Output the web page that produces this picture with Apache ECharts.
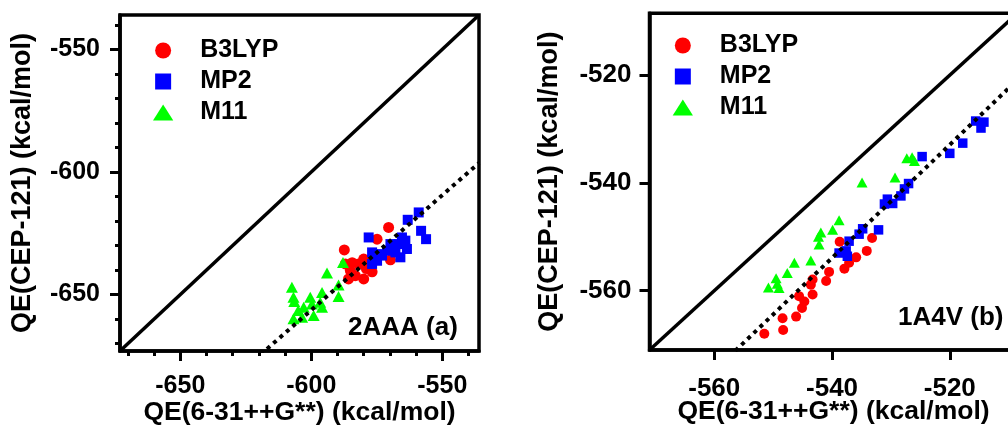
<!DOCTYPE html>
<html>
<head>
<meta charset="utf-8">
<script src="https://cdn.jsdelivr.net/npm/echarts@6/dist/echarts.min.js"></script>
<style>
  html, body { margin: 0; padding: 0; background: #fff; }
  #chart { width: 1008px; height: 427px; }
</style>
</head>
<body>
<div id="chart"></div>
<script>
// panel (a) 2AAA
const rangeA = [-673, -536];
const ticksA = [-650, -600, -550];
const minorA = [-670, -660, -650, -640, -630, -620, -610, -600, -590, -580, -570, -560, -550, -540];
const b3lypA = [
  [-570.5, -622.6], [-574.9, -627.4], [-587.4, -631.8], [-587.0, -637.5], [-585.1, -640.2],
  [-582.0, -637.5], [-580.0, -635.5], [-577.5, -636.2], [-576.8, -640.7], [-580.0, -643.6],
  [-585.8, -643.6], [-569.8, -635.8], [-583.2, -642.3], [-579.0, -639.4], [-584.4, -637.0]
];
const mp2A = [
  [-559.0, -616.5], [-563.2, -619.5], [-558.1, -624.0], [-556.2, -627.4], [-578.1, -626.7],
  [-576.8, -632.8], [-564.1, -628.0], [-566.7, -629.4], [-568.6, -630.8], [-571.1, -632.1],
  [-573.0, -634.1], [-574.9, -636.2], [-576.8, -637.5], [-566.0, -634.8], [-563.5, -631.4],
  [-565.4, -626.7], [-569.8, -629.4], [-574.3, -633.5], [-567.9, -632.8]
];
const m11A = [
  [-587.9, -636.9], [-594.0, -641.2], [-589.6, -646.1], [-589.6, -650.8], [-595.9, -649.1],
  [-596.6, -653.1], [-600.4, -651.1], [-607.4, -647.0], [-606.8, -651.1], [-606.5, -652.8],
  [-602.9, -655.2], [-599.7, -653.8], [-595.9, -655.2], [-606.8, -659.9], [-599.1, -658.5],
  [-603.5, -659.2], [-605.0, -656.5]
];
const fitA = [0.937, -94.1]; // slope, intercept

// panel (b) 1A4V
const rangeB = [-571, -508.5];
const ticksB = [-560, -540, -520];
const b3lypB = [
  [-551.5, -568.0], [-548.3, -567.3], [-548.4, -565.1], [-546.1, -564.8], [-545.1, -563.2],
  [-544.7, -562.0], [-545.6, -561.0], [-543.3, -560.7], [-543.6, -558.9], [-543.3, -557.9],
  [-540.5, -556.5], [-537.9, -555.9], [-537.1, -554.8], [-535.9, -553.8], [-534.1, -552.6],
  [-533.2, -550.2], [-538.7, -550.9], [-541.0, -558.2]
];
const mp2B = [
  [-515.6, -528.5], [-514.2, -528.7], [-514.7, -529.8], [-517.8, -532.6], [-520.0, -534.5],
  [-524.7, -535.1], [-527.0, -540.1], [-527.7, -541.1], [-528.3, -542.4], [-530.6, -543.0],
  [-529.7, -543.8], [-531.1, -543.9], [-532.1, -548.7], [-534.8, -548.5], [-535.4, -549.5],
  [-537.1, -550.8], [-538.8, -553.0], [-537.4, -553.6], [-537.6, -552.6]
];
const m11B = [
  [-526.4, -535.2], [-527.3, -535.4], [-526.0, -535.9], [-529.3, -539.0], [-534.9, -539.9],
  [-538.8, -546.9], [-539.9, -548.7], [-541.9, -549.2], [-542.3, -550.0], [-542.2, -551.4],
  [-543.6, -554.4], [-546.4, -554.8], [-547.6, -556.7], [-549.5, -557.7], [-550.8, -559.4],
  [-549.0, -559.5], [-549.3, -558.7]
];
const fitB = [1.05, 13.1];

const methods = ['B3LYP', 'MP2', 'M11'];
const xName = 'QE(6-31++G**) (kcal/mol)';
const yName = 'QE(CEP-121) (kcal/mol)';

const font = "'Liberation Sans', Arial, sans-serif";
const txt = (size) => ({ fontSize: size, fontWeight: 'bold', color: '#000', fontFamily: font });

function axis(grid, range, ticks, opts) {
  return {
    type: 'value', gridIndex: grid, min: range[0], max: range[1], position: opts.pos,
    name: opts.name, nameLocation: 'middle', nameGap: opts.gap, nameMoveOverlap: false,
    nameTextStyle: txt(opts.nameSize),
    axisLine: { show: true, lineStyle: { color: '#000', width: 3.5 } },
    axisTick: { customValues: ticks, length: 10, lineStyle: { color: '#000', width: 3 } },
    axisLabel: Object.assign({ customValues: ticks, margin: opts.margin }, txt(opts.labelSize)),
    splitLine: { show: false }
  };
}
// second axis on the same side, only for the short minor ticks
function minorAxis(grid, range, ticks, pos) {
  return {
    type: 'value', gridIndex: grid, min: range[0], max: range[1], position: pos,
    axisLine: { show: false },
    axisTick: { customValues: ticks, length: 5, lineStyle: { color: '#000', width: 3 } },
    axisLabel: { show: false },
    splitLine: { show: false }
  };
}

function fitLine(fit, range) {
  return [[range[0], fit[0] * range[0] + fit[1]], [range[1], fit[0] * range[1] + fit[1]]];
}

function panelSeries(ax, data, sizes, fit, range) {
  const colors = ['#ff0000', '#0000ff', '#00ff00'];
  const symbols = ['circle', 'rect', 'triangle'];
  const out = data.map((d, i) => ({
    name: methods[i], type: 'scatter', xAxisIndex: ax, yAxisIndex: ax,
    symbol: symbols[i], symbolSize: sizes[i], data: d,
    itemStyle: { color: colors[i], opacity: 1 }, z: 2 + i
  }));
  out.push({
    type: 'line', xAxisIndex: ax, yAxisIndex: ax, data: [[range[0], range[0]], [range[1], range[1]]],
    symbol: 'none', lineStyle: { color: '#000', width: 3.5 }, silent: true, z: 6
  });
  out.push({
    type: 'line', xAxisIndex: ax, yAxisIndex: ax, data: fitLine(fit, range), clip: true,
    symbol: 'none', lineStyle: { color: '#000', width: 4, type: [4, 4.5] }, silent: true, z: 7
  });
  return out;
}

const legendIcons = ['circle', 'path://M0,0L1,0L1,1L0,1Z', 'path://M9.5,0L19,15L0,15Z'];
function legend(left, top) {
  return {
    orient: 'vertical', left: left, top: top, itemWidth: 64, itemHeight: 16, itemGap: 6,
    selectedMode: false, textStyle: txt(25),
    data: methods.map((m, i) => ({ name: m, icon: legendIcons[i] }))
  };
}

const chart = echarts.init(document.getElementById('chart'), null, { renderer: 'canvas' });
chart.setOption({
  backgroundColor: '#fff',
  animation: false,
  grid: [
    { left: 120, top: 15, width: 359, height: 336, outerBoundsMode: 'none',
      show: true, borderColor: '#000', borderWidth: 3.5 },
    { left: 649.5, top: 13.3, width: 368, height: 336.7, outerBoundsMode: 'none',
      show: true, borderColor: '#000', borderWidth: 3.5 }
  ],
  xAxis: [
    axis(0, rangeA, ticksA, { pos: 'bottom', name: xName, gap: 48, nameSize: 26.5, margin: 23, labelSize: 25 }),
    minorAxis(0, rangeA, minorA, 'bottom'),
    axis(1, rangeB, ticksB, { pos: 'bottom', name: xName, gap: 48, nameSize: 26.5, margin: 26, labelSize: 26 })
  ],
  yAxis: [
    axis(0, rangeA, ticksA, { pos: 'left', name: yName, gap: 84, nameSize: 27, margin: 20, labelSize: 25 }),
    minorAxis(0, rangeA, minorA, 'left'),
    axis(1, rangeB, ticksB, { pos: 'left', name: yName, gap: 86, nameSize: 27, margin: 18, labelSize: 26 })
  ],
  legend: [legend(148, 33), legend(667.7, 28)],
  title: [
    { text: '2AAA (a)', left: 348, top: 315, padding: 0, textStyle: txt(26) },
    { text: '1A4V (b)', left: 898, top: 305, padding: 0, textStyle: txt(26) }
  ],
  series: [].concat(
    panelSeries(0, [b3lypA, mp2A, m11A], [11, 10, [12, 11]], fitA, rangeA),
    panelSeries(2, [b3lypB, mp2B, m11B], [10, 9.5, [11, 10]], fitB, rangeB)
  )
});
</script>
</body>
</html>
